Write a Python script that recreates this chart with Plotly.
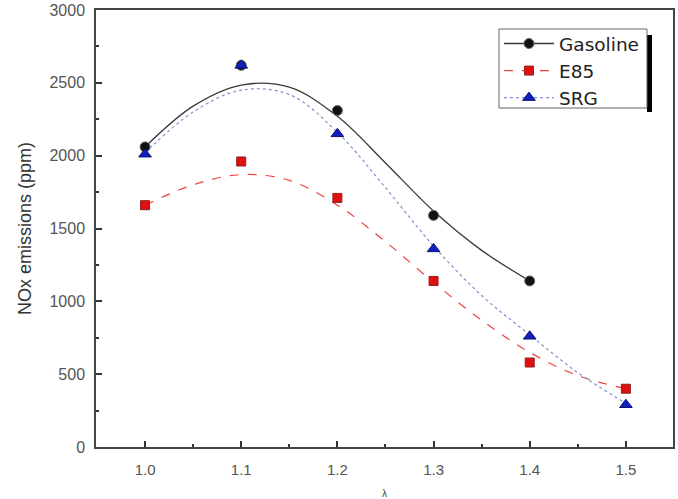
import plotly.graph_objects as go

# measured points
lam = [1.0, 1.1, 1.2, 1.3, 1.4, 1.5]
gasoline = [2060, 2620, 2310, 1590, 1140]
e85 = [1660, 1960, 1710, 1140, 580, 400]
srg = [2010, 2620, 2150, 1360, 760, 290]

# fitted curves
fit_x = [1.0, 1.05, 1.1, 1.15, 1.2, 1.25, 1.3, 1.35, 1.4, 1.45, 1.5]
gasoline_fit = [2060, 2340, 2485, 2470, 2270, 1950, 1620, 1350, 1140]
e85_fit = [1660, 1800, 1870, 1830, 1660, 1410, 1130, 870, 650, 490, 400]
srg_fit = [2020, 2300, 2450, 2420, 2160, 1780, 1380, 1040, 770, 510, 300]

fig = go.Figure()

series = [
    ("Gasoline", gasoline, gasoline_fit, "#3a3a3a", "solid", 1.3,
     dict(symbol="circle", size=10, color="#111", line=dict(color="#666", width=1))),
    ("E85", e85, e85_fit, "#f04040", "dash", 1.2,
     dict(symbol="square", size=9, color="#e01010", line=dict(color="#902020", width=1))),
    ("SRG", srg, srg_fit, "#8090d0", "dot", 1.2,
     dict(symbol="triangle-up", size=11, color="#1020c0", line=dict(color="#101070", width=1))),
]

for name, vals, fit, lc, dash, lw, mk in series:
    n = len(fit)
    fig.add_trace(go.Scatter(x=fit_x[:n], y=fit, mode="lines", line=dict(color=lc, dash=dash, width=lw, shape="spline"),
                             showlegend=False, hoverinfo="skip"))
    fig.add_trace(go.Scatter(x=lam[:len(vals)], y=vals, mode="markers", marker=mk, showlegend=False))
    fig.add_trace(go.Scatter(x=[None], y=[None], mode="lines+markers", name=name,
                             line=dict(color=lc, dash=dash, width=lw), marker=mk))

# legend frame and its shadow (right side)
fig.add_shape(type="rect", xref="paper", yref="paper", layer="above",
              x0=0.9549, x1=0.9636, y0=0.7666, y1=0.9428,
              fillcolor="black", line=dict(width=0))
fig.add_shape(type="rect", xref="paper", yref="paper", layer="above",
              x0=0.6984, x1=0.9549, y0=0.7757, y1=0.9565,
              fillcolor="white", line=dict(color="#666", width=1))

fig.update_layout(
    width=678, height=499,
    margin=dict(l=96, r=5, t=10, b=52),
    paper_bgcolor="white", plot_bgcolor="white",
    font=dict(family="Liberation Sans, Arial, sans-serif", color="#333"),
    legend=dict(x=0.6984, y=0.9657, xanchor="left", yanchor="top",
                borderwidth=0, bgcolor="rgba(0,0,0,0)",
                font=dict(size=18.5, color="#222", family="DejaVu Sans, sans-serif"),
                tracegroupgap=0, itemwidth=50),
    showlegend=True,
)
fig.update_xaxes(range=[0.949, 1.549], tickvals=[1.0, 1.1, 1.2, 1.3, 1.4, 1.5],
                 ticktext=["1.0", "1.1", "1.2", "1.3", "1.4", "1.5"],
                 ticks="inside", ticklen=6, tickwidth=1.5, tickcolor="#333",
                 minor=dict(ticks="inside", ticklen=3, dtick=0.05, tickcolor="#333"),
                 showline=True, linecolor="#444", linewidth=1.5, mirror=True,
                 showgrid=False, zeroline=False, tickfont=dict(size=15, color="#555"),
                 ticklabelstandoff=8, automargin=False,
                 title=dict(text="λ", font=dict(size=10, color="#444"), standoff=16))
fig.update_yaxes(range=[0, 3000], tickvals=[0, 500, 1000, 1500, 2000, 2500, 3000],
                 ticks="inside", ticklen=6, tickwidth=1.5, tickcolor="#333",
                 minor=dict(ticks="inside", ticklen=3, dtick=250, tickcolor="#333"),
                 showline=True, linecolor="#444", linewidth=1.5, mirror=True,
                 showgrid=False, zeroline=False, tickfont=dict(size=16, color="#555"),
                 ticklabelstandoff=6, automargin=False,
                 title=dict(text="NOx emissions (ppm)", font=dict(size=18, color="#333"), standoff=13))

fig.write_html("out.html")
